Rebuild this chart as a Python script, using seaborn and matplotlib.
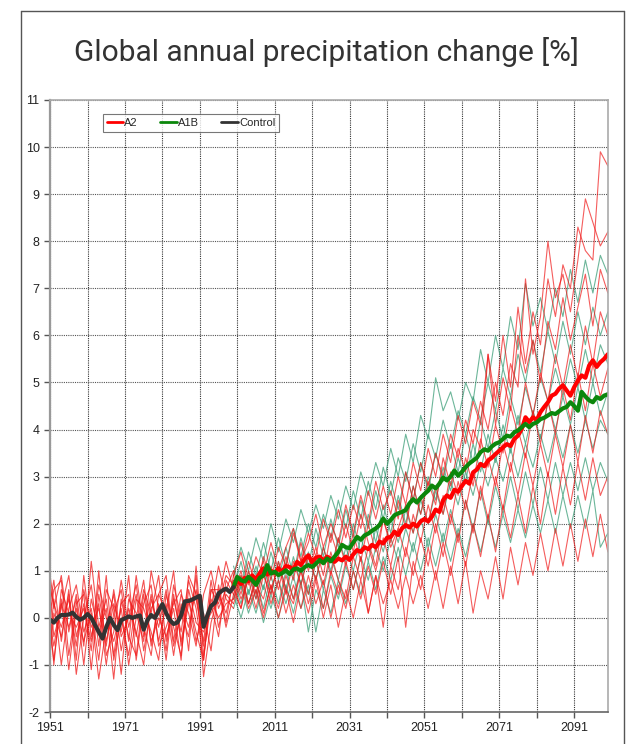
import matplotlib
matplotlib.use("Agg")
import matplotlib.pyplot as plt
import seaborn as sns
from matplotlib.lines import Line2D

# -----------------------------------
# Data
# -----------------------------------

control_years = list(range(1951, 2001))
control_vals = [
    -0.04, -0.10, 0.00, 0.06, 0.06, 0.07, 0.11, 0.02, -0.04, 0.00,
    0.08, 0.00, -0.15, -0.30, -0.44, -0.20, 0.00, -0.15, -0.26, -0.05,
    -0.01, 0.03, 0.00, 0.03, 0.05, -0.25, -0.05, 0.06, 0.00, 0.15,
    0.29, 0.10, -0.05, -0.13, -0.10, 0.05, 0.35, 0.36, 0.39, 0.43,
    0.47, -0.19, 0.05, 0.25, 0.32, 0.52, 0.58, 0.62, 0.55, 0.65,
]

mean_years = list(range(2000, 2101))
a2_mean = [
    0.65,
    0.80, 0.72, 0.85, 0.78, 0.90, 0.82, 0.95, 1.05, 0.92, 1.00,
    0.95, 1.05, 0.98, 1.10, 1.08, 1.02, 1.19, 1.12, 1.25, 1.33,
    1.18, 1.28, 1.30, 1.22, 1.30, 1.25, 1.19, 1.26, 1.22, 1.30,
    1.23, 1.35, 1.44, 1.40, 1.50, 1.46, 1.55, 1.50, 1.62, 1.58,
    1.70, 1.72, 1.83, 1.76, 1.90, 1.97, 1.92, 2.00, 1.94, 2.05,
    2.10, 2.05, 2.15, 2.30, 2.25, 2.50, 2.60, 2.55, 2.72, 2.68,
    2.80, 2.91, 2.85, 3.09, 3.15, 3.27, 3.22, 3.34, 3.40, 3.48,
    3.55, 3.62, 3.69, 3.65, 3.80, 3.87, 4.01, 4.26, 4.16, 4.26,
    4.20, 4.37, 4.48, 4.58, 4.72, 4.76, 4.87, 4.94, 4.83, 4.72,
    4.90, 5.04, 5.15, 5.10, 5.36, 5.47, 5.33, 5.43, 5.50, 5.60,
]
a1b_mean = [
    0.65,
    0.87, 0.80, 0.77, 0.87, 0.80, 0.70, 0.85, 0.90, 1.12, 0.94,
    0.98, 0.91, 0.95, 1.01, 0.93, 1.03, 1.05, 1.00, 1.08, 1.12,
    1.08, 1.15, 1.23, 1.16, 1.26, 1.20, 1.30, 1.40, 1.55, 1.50,
    1.48, 1.60, 1.72, 1.66, 1.75, 1.79, 1.85, 1.90, 1.97, 2.11,
    2.00, 2.08, 2.18, 2.22, 2.25, 2.29, 2.43, 2.52, 2.45, 2.55,
    2.63, 2.70, 2.81, 2.75, 2.85, 2.98, 2.92, 3.00, 3.13, 3.02,
    3.10, 3.20, 3.28, 3.34, 3.40, 3.52, 3.58, 3.55, 3.64, 3.70,
    3.73, 3.80, 3.87, 3.85, 3.94, 3.98, 4.05, 4.12, 4.05, 4.12,
    4.15, 4.22, 4.25, 4.30, 4.35, 4.33, 4.39, 4.45, 4.48, 4.58,
    4.50, 4.40, 4.80, 4.70, 4.62, 4.58, 4.69, 4.65, 4.72, 4.75,
]

# individual model runs, historical period
hist_years = [1951] + list(range(1952, 2001, 2))
hist_members = [
    [0.7, 0.2, 0.9, -0.3, 0.5, -0.6, 1.2, -0.2, 0.4, -0.8, 0.3, 0.5, -0.4,
     0.6, 0.1, 0.9, -0.5, 0.4, -0.3, 0.8, 0.2, -0.9, 0.6, 0.3, 0.9, 0.7],
    [-0.3, -0.9, 0.4, -1.1, 0.2, -0.5, 0.1, -1.3, -0.2, 0.5, -0.7, 0.2, -0.3,
     -1.0, 0.4, -0.2, 0.6, -0.6, 0.1, -0.4, 0.9, -1.25, -0.1, 0.5, 0.1, 0.8],
    [0.3, 0.8, -0.5, 0.6, -0.9, 0.9, -0.4, 0.3, -1.0, 0.1, 0.6, -0.5, 0.9,
     -0.2, -0.8, 0.5, 0.1, 1.0, -0.6, 0.3, 0.4, -0.5, 0.8, -0.2, 0.5, 0.3],
    [-0.8, 0.1, -0.4, 0.5, -1.2, 0.0, 0.7, -0.6, 0.9, -0.9, 0.0, -0.8, 0.4,
     0.2, -0.3, -0.9, 0.5, -0.2, -0.8, 0.6, -0.1, -0.3, 0.2, 1.1, 0.4, 0.2],
    [0.1, 0.6, 0.8, -0.8, 0.3, 0.5, -1.1, 0.5, -0.5, 0.3, -0.3, 0.9, -0.9,
     0.3, 0.7, -0.6, -0.2, 0.3, 0.6, -0.7, 1.1, -0.8, 0.3, -0.4, 0.8, 0.5],
    [-0.5, 0.4, -1.0, 0.2, 0.7, -0.3, 0.2, -0.9, 0.6, 0.2, -1.2, 0.4, 0.1,
     -0.5, 1.0, 0.2, -0.7, 0.7, 0.0, 0.4, -0.5, 0.1, -0.7, 0.7, -0.1, 0.9],
    [0.5, -0.4, 0.2, 0.9, -0.4, 0.3, -0.7, 1.0, -0.8, -0.3, 0.8, -0.2, 0.5,
     -0.7, 0.2, 0.5, 0.9, -0.5, 0.5, 0.1, -0.6, 0.5, 1.0, 0.2, 0.6, 1.0],
    [-0.1, -0.6, 0.3, -0.2, 0.4, -1.0, 0.4, -0.3, 0.2, -1.3, 0.4, -0.4, -0.8,
     0.5, -0.5, 0.0, -0.4, 0.2, -0.9, 0.9, 0.5, -0.6, 0.4, 0.0, 0.3, 0.4],
    [0.9, 0.3, -0.2, 0.4, -0.6, 0.6, -0.2, 0.2, -0.6, 0.6, -0.4, 0.0, 0.7,
     -0.4, 0.5, -0.5, 0.3, -0.8, 0.3, -0.2, 0.6, -0.2, 0.1, 0.4, 1.2, 0.6],
    [0.0, -1.0, 0.6, 0.1, -0.2, 0.2, -0.5, 0.7, 0.0, -0.5, 0.2, -1.0, 0.0,
     0.8, -0.6, 0.3, -0.9, 0.5, -0.5, 0.4, -0.3, -0.9, 0.6, 0.6, -0.2, 0.5],
]

# individual model runs, scenario period (every second year)
scen_years = list(range(2000, 2101, 2))
a2_members = [
    [0.9, 1.4, 0.7, 1.3, 0.9, 1.6, 1.0, 1.5, 1.9, 1.2, 1.8,
     1.3, 2.1, 1.6, 2.3, 1.7, 2.4, 1.9, 2.7, 2.1, 2.8,
     2.2, 3.0, 2.4, 3.3, 2.7, 3.6, 3.0, 3.9, 3.3, 4.3,
     3.7, 4.6, 4.1, 5.6, 4.6, 6.0, 4.9, 6.6, 5.4, 6.5,
     5.8, 7.2, 6.4, 7.5, 7.0, 8.3, 7.8, 7.6, 9.9, 9.6],
    [0.6, 0.2, 1.0, 0.5, 1.3, 0.8, 1.5, 1.1, 1.8, 1.2, 1.6,
     2.2, 1.5, 2.0, 1.6, 2.4, 1.8, 2.6, 2.0, 2.9, 2.3,
     2.7, 2.1, 3.1, 2.5, 3.3, 2.8, 3.5, 3.0, 3.9, 3.4,
     4.2, 3.7, 4.6, 4.0, 5.0, 4.3, 5.4, 4.9, 7.2, 5.6,
     6.4, 8.0, 6.8, 7.3, 6.5, 7.6, 8.9, 8.4, 7.9, 8.2],
    [1.0, 0.5, 1.2, 0.7, 0.4, 1.1, 0.6, 1.3, 0.8, 1.6, 1.0,
     1.5, 0.9, 1.8, 1.3, 2.0, 1.4, 2.2, 1.6, 1.1, 2.1,
     1.6, 2.5, 1.9, 2.8, 2.2, 2.9, 2.4, 3.4, 2.8, 3.6,
     3.1, 4.0, 3.6, 5.6, 4.1, 5.1, 4.4, 6.0, 5.2, 5.9,
     5.0, 6.3, 5.7, 6.8, 5.9, 6.6, 7.3, 6.2, 7.4, 6.9],
    [0.4, 0.9, 0.3, 0.8, 1.2, 0.6, 1.1, 0.5, 1.2, 0.7, 1.3,
     0.8, 1.5, 0.9, 1.7, 1.1, 1.8, 1.2, 2.0, 1.4, 2.1,
     1.5, 1.9, 2.4, 1.8, 2.6, 2.0, 2.8, 2.2, 3.1, 2.6,
     3.4, 2.8, 3.8, 3.2, 4.1, 3.5, 4.5, 3.9, 5.0, 4.3,
     5.2, 4.6, 5.6, 4.9, 5.8, 5.1, 6.2, 5.4, 6.5, 6.0],
    [0.9, 0.4, 0.8, 0.2, 0.9, 0.5, 1.2, 0.6, 0.3, 1.0, 0.5,
     1.2, 0.7, 1.4, 0.8, 0.4, 1.3, 0.8, 1.5, 1.0, 1.7,
     1.1, 1.9, 1.3, 2.2, 1.6, 2.4, 1.8, 2.6, 2.0, 2.9,
     2.3, 3.1, 2.5, 3.4, 2.8, 3.7, 3.1, 4.0, 3.4, 4.4,
     3.7, 4.6, 3.9, 4.9, 4.2, 5.2, 4.4, 5.4, 4.7, 5.3],
    [0.3, 0.8, 0.2, 0.6, 0.0, 0.7, 0.2, 0.9, 0.4, 1.0, 0.3,
     0.9, 0.2, 1.0, 0.5, 1.2, 0.6, 1.3, 0.1, 0.9, -0.2,
     1.1, 0.6, 1.5, 0.9, 1.7, 1.1, 2.0, 1.3, 2.2, 1.6,
     2.5, 1.8, 2.8, 2.1, 3.0, 2.3, 3.3, 2.6, 3.5, 2.8,
     3.7, 3.0, 3.9, 3.2, 4.1, 3.3, 4.3, 3.5, 4.4, 3.9],
    [0.7, 0.2, 0.9, 0.4, 1.0, 0.3, 0.8, 0.1, 0.7, 0.2, 0.9,
     0.3, 0.8, 0.0, 0.7, 0.2, 1.0, 0.4, 1.1, 0.5, 1.2,
     0.5, 1.3, -0.2, 1.2, 0.6, 1.5, 0.8, 1.6, 0.9, 1.8,
     1.1, 2.0, 1.3, 2.2, 1.4, 2.4, 1.7, 2.6, 1.8, 2.8,
     2.0, 3.1, 2.2, 3.2, 2.4, 3.3, 2.5, 3.4, 2.6, 3.0],
    [0.5, 1.0, 0.3, 0.8, 0.1, 0.7, 0.0, 0.6, -0.1, 0.7, 0.1,
     0.8, 0.0, 0.7, -0.2, 0.6, 0.0, 0.8, 0.1, 0.9, 0.3,
     0.8, 0.2, 0.9, 0.3, 0.9, 0.2, 1.0, 0.2, 1.1, 0.3,
     1.2, 0.1, 1.0, 0.4, 1.3, 0.4, 1.5, 0.7, 1.6, 0.9,
     1.8, 1.0, 1.9, 1.1, 2.0, 1.2, 2.1, 1.3, 2.2, 1.4],
]
a1b_members = [
    [0.9, 1.5, 1.0, 1.7, 1.2, 2.0, 1.4, 2.1, 1.6, 2.3, 1.8,
     2.4, 1.9, 2.6, 2.1, 2.8, 2.3, 3.1, 2.6, 3.3, 2.8,
     3.6, 3.0, 3.9, 3.3, 4.3, 3.8, 5.1, 4.4, 4.8, 4.2,
     5.0, 4.6, 5.7, 5.0, 6.0, 5.3, 6.4, 5.7, 7.1, 6.2,
     6.8, 6.1, 7.0, 6.4, 7.4, 6.7, 7.6, 6.9, 7.7, 7.3],
    [1.1, 0.6, 1.4, 0.9, 1.6, 1.0, 1.7, 1.1, 1.9, 1.3, 2.0,
     1.5, 2.2, 1.7, 2.5, 1.9, 2.7, 2.1, 2.9, 2.3, 3.2,
     2.6, 3.4, 2.9, 3.7, 3.1, 3.9, 3.4, 4.2, 3.6, 4.4,
     3.9, 4.7, 4.2, 5.0, 4.4, 5.3, 4.7, 5.6, 5.0, 5.9,
     5.2, 6.1, 5.4, 6.3, 5.6, 6.5, 5.8, 6.6, 6.0, 6.5],
    [0.6, 1.2, 0.5, 1.1, 0.6, 1.4, 0.8, 1.5, 0.9, 1.7, 1.1,
     1.9, 1.3, 2.1, 1.5, 2.3, 1.7, 2.5, 1.9, 2.7, 2.1,
     2.9, 2.3, 3.1, 2.5, 3.3, 2.7, 3.5, 2.9, 3.7, 3.1,
     3.9, 3.3, 4.2, 3.6, 4.4, 3.8, 4.7, 4.1, 4.9, 4.3,
     5.1, 4.6, 5.3, 4.7, 5.5, 4.9, 5.7, 5.0, 5.8, 5.4],
    [0.8, 0.3, 1.0, 0.4, 1.1, 0.5, 1.2, 0.6, 1.3, 0.7, 1.4,
     0.8, 1.5, 1.0, 1.7, 1.2, 2.0, 1.4, 2.2, 1.6, 2.4,
     1.8, 2.6, 2.0, 2.8, 2.2, 3.0, 2.5, 3.2, 2.7, 3.4,
     2.9, 3.7, 3.1, 3.9, 3.3, 4.1, 3.5, 4.3, 3.7, 4.4,
     3.8, 4.6, 4.0, 4.7, 4.1, 4.9, 4.2, 5.0, 4.3, 4.8],
    [0.4, 0.9, 0.3, 0.8, 0.2, 0.9, 0.3, 1.0, 0.4, 1.1, 0.5,
     1.2, 0.6, 1.3, 0.8, 1.5, 1.0, 1.7, 1.2, 1.9, 1.4,
     2.1, 1.6, 2.3, 1.8, 2.5, 2.0, 2.7, 2.2, 2.9, 2.4,
     3.1, 2.6, 3.3, 2.8, 3.4, 2.9, 3.6, 3.0, 3.7, 3.2,
     3.9, 3.3, 4.0, 3.4, 4.1, 3.5, 4.2, 3.6, 4.2, 3.9],
    [0.2, 0.7, 0.1, 0.6, -0.1, 0.5, 0.0, 0.7, 0.1, 0.8, -0.3,
     0.6, 0.2, 0.9, 0.4, 1.1, 0.6, 1.3, 0.8, 1.5, 1.0,
     1.7, 1.2, 1.9, 1.4, 2.1, 1.5, 2.2, 1.6, 2.3, 1.7,
     2.5, 1.9, 2.7, 2.0, 2.8, 2.2, 3.0, 2.3, 3.1, 2.4,
     3.2, 2.5, 3.3, 2.6, 3.3, 2.7, 3.4, 2.7, 3.3, 2.9],
    [0.5, 0.0, 0.6, 0.1, 0.7, 0.2, 0.8, 0.3, 0.9, 0.2, 0.7,
     -0.3, 0.6, 0.1, 0.8, 0.3, 1.0, 0.5, 1.2, 0.6, 1.3,
     0.8, 1.5, 0.9, 1.6, 1.0, 1.7, 1.1, 1.8, 1.2, 1.9,
     1.3, 2.0, 1.4, 2.1, 1.5, 2.2, 1.6, 2.3, 1.7, 2.4,
     1.8, 2.5, 1.8, 2.6, 1.9, 2.6, 1.9, 2.7, 1.5, 1.8],
]

legend_labels = ["A2", "A1B", "Control"]

# -----------------------------------
# Style
# -----------------------------------

sns.set_style("white")
plt.rcParams['font.family'] = ['Liberation Sans', 'DejaVu Sans']
plt.rcParams['axes.unicode_minus'] = False

RED = "#ff0000"
THIN_RED = "#f01818"
GREEN = "#0b870b"
THIN_GREEN = "#3c9e78"
BLACK = "#333333"

fig = plt.figure(figsize=(6.26, 7.44), dpi=100)
ax = fig.add_axes([0.080, 0.043, 0.891, 0.8226])

# -----------------------------------
# Thin ensemble lines
# -----------------------------------

for vals in a1b_members:
    sns.lineplot(x=scen_years, y=vals, color=THIN_GREEN, lw=0.8,
                 alpha=0.75, ax=ax, legend=False)

for vals in a2_members:
    sns.lineplot(x=scen_years, y=vals, color=THIN_RED, lw=0.8,
                 alpha=0.7, ax=ax, legend=False)

for vals in hist_members:
    sns.lineplot(x=hist_years, y=vals, color=THIN_RED, lw=0.8,
                 alpha=0.75, ax=ax, legend=False)

# -----------------------------------
# Thick mean lines
# -----------------------------------

sns.lineplot(x=mean_years, y=a2_mean, color=RED, lw=3, ax=ax, legend=False)
sns.lineplot(x=mean_years, y=a1b_mean, color=GREEN, lw=3, ax=ax, legend=False)
sns.lineplot(x=control_years, y=control_vals, color=BLACK, lw=3, ax=ax,
             legend=False)

# -----------------------------------
# Axes
# -----------------------------------

ax.set_xlim(1951, 2100)
ax.set_ylim(-2, 11)
ax.set_xticks(range(1951, 2100, 20))
ax.set_xticks(range(1961, 2100, 20), minor=True)
ax.set_yticks(range(-2, 12))
ax.set_xlabel("")
ax.set_ylabel("")

ax.grid(True, which='both', axis='x', color='#333333',
        linestyle=(0, (1, 1)), lw=0.8)
ax.grid(True, which='major', axis='y', color='#555555',
        linestyle=(0, (1, 1)), lw=0.8)
ax.set_axisbelow(True)

ax.tick_params(axis='both', which='both', direction='out', length=4,
               width=1, color='#555555', labelsize=9, labelcolor='#222222',
               bottom=True, left=True)

for side in ["top", "right"]:
    ax.spines[side].set_color("#aaaaaa")
    ax.spines[side].set_linewidth(1.2)
ax.spines["left"].set_color("#999999")
ax.spines["left"].set_linewidth(1.6)
ax.spines["bottom"].set_color("#666666")
ax.spines["bottom"].set_linewidth(1.2)

# -----------------------------------
# Legend
# -----------------------------------

handles = [
    Line2D([], [], color=RED, lw=2),
    Line2D([], [], color=GREEN, lw=2),
    Line2D([], [], color=BLACK, lw=2),
]
leg = ax.legend(handles, legend_labels, ncol=3, loc='center',
                bbox_to_anchor=(0.305, 0.835), bbox_transform=fig.transFigure,
                fontsize=8, frameon=True, fancybox=False, edgecolor='#555555',
                handlelength=1.5, handletextpad=0.1, columnspacing=2.0,
                borderpad=0.35, borderaxespad=0)
leg.get_frame().set_linewidth(0.8)

# -----------------------------------
# Title and outer frame
# -----------------------------------

fig.text(0.522, 0.930, "Global annual precipitation change [%]",
         ha='center', va='center', fontsize=21.5, color='#333333',
         family=['Roboto', 'DejaVu Sans'])

frame_color = '#555555'
fig.add_artist(Line2D([21 / 626, 21 / 626], [0, 1 - 11 / 744],
                      transform=fig.transFigure, color=frame_color, lw=1))
fig.add_artist(Line2D([21 / 626, 624 / 626], [1 - 11 / 744, 1 - 11 / 744],
                      transform=fig.transFigure, color=frame_color, lw=1))
fig.add_artist(Line2D([624 / 626, 624 / 626], [0, 1 - 11 / 744],
                      transform=fig.transFigure, color=frame_color, lw=1))

fig.savefig("out.png", dpi=100)
